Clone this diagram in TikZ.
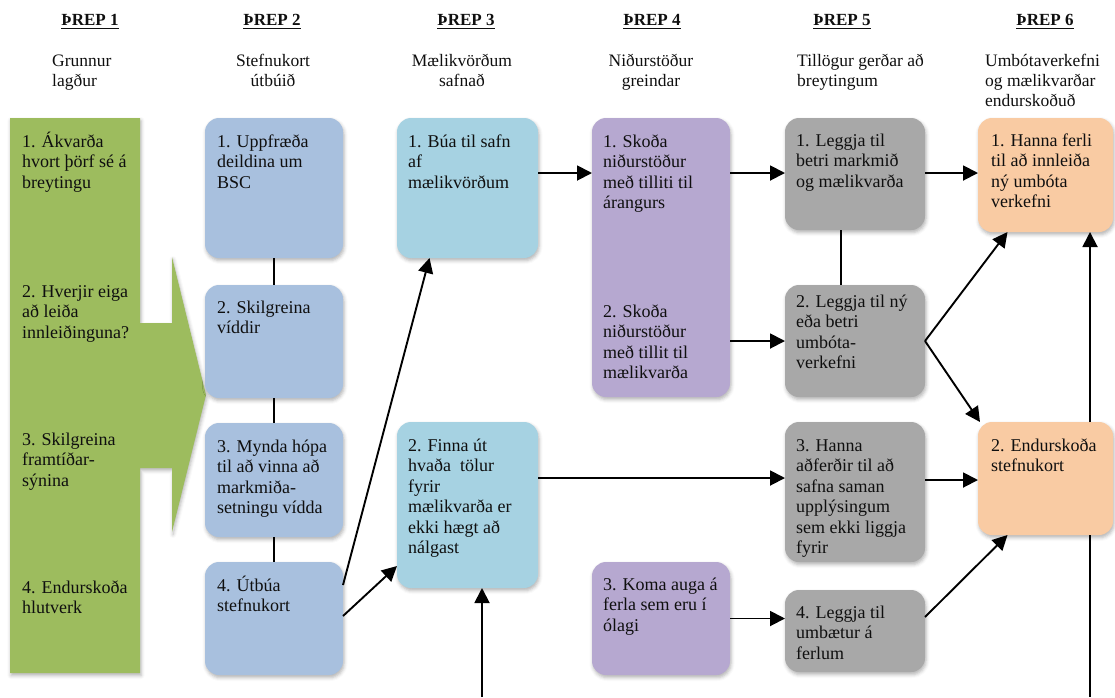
\documentclass[tikz,border=0pt]{standalone}
\usepackage{fontspec}
\setmainfont{Liberation Serif}
\usetikzlibrary{arrows.meta,shadows.blur}

\definecolor{stepgreen}{RGB}{157,188,94}
\definecolor{stepblue}{RGB}{168,192,222}
\definecolor{stepcyan}{RGB}{166,210,226}
\definecolor{steppurple}{RGB}{182,168,208}
\definecolor{stepgray}{RGB}{168,168,168}
\definecolor{steppeach}{RGB}{249,203,163}
\definecolor{ink}{RGB}{15,15,15}

% text of a card: first baseline at the node's base anchor
\newcommand{\cardlines}[1]{\parbox[t]{150pt}{\raggedright #1}}
\newcommand{\midlines}[1]{\parbox[t]{150pt}{\centering #1}}

\tikzset{
  softshadow/.style={blur shadow={shadow xshift=1pt, shadow yshift=-2.5pt,
      shadow blur radius=3.5pt, shadow opacity=30}},
  card/.style={rounded corners=14pt, inner sep=0pt, outer sep=0pt, softshadow},
  cardtxt/.style={anchor=base west, inner sep=0pt, text=ink,
      font=\fontsize{18}{20.5}\selectfont},
  headtxt/.style={anchor=base, inner sep=0pt, text=ink,
      font=\fontsize{17}{20}\selectfont\bfseries},
  subtxt/.style={inner sep=0pt, text=ink, font=\fontsize{17.5}{20}\selectfont},
  ln/.style={line width=1.9pt, draw=black},
  arr/.style={ln, -{Triangle[length=15pt,width=15pt]}},
  uline/.style={line width=1.2pt, draw=ink}
}

\begin{document}
\begin{tikzpicture}[x=1pt,y=-1pt]
\useasboundingbox (0,0) rectangle (1115,697);

% ---------- column headings ----------
\node[headtxt] (h1) at (90,25)   {ÞREP 1};
\node[headtxt] (h2) at (272,25)  {ÞREP 2};
\node[headtxt] (h3) at (466,25)  {ÞREP 3};
\node[headtxt] (h4) at (652,25)  {ÞREP 4};
\node[headtxt] (h5) at (842,25)  {ÞREP 5};
\node[headtxt] (h6) at (1045,25) {ÞREP 6};
\foreach \h in {h1,h2,h3,h4,h5,h6}
  \draw[uline] ([yshift=-3.5pt]\h.base west) -- ([yshift=-3.5pt]\h.base east);

\node[subtxt, anchor=base west] (s1) at (52,66)  {\cardlines{Grunnur\\lagður}};
\node[subtxt, anchor=base]      (s2) at (273,66) {\midlines{Stefnukort\\útbúið}};
\node[subtxt, anchor=base]      (s3) at (462,66) {\midlines{Mælikvörðum\\safnað}};
\node[subtxt, anchor=base]      (s4) at (651,66) {\midlines{Niðurstöður\\greindar}};
\node[subtxt, anchor=base west] (s5) at (797,66) {\cardlines{Tillögur gerðar að\\breytingum}};
\node[subtxt, anchor=base west] (s6) at (985,66) {\cardlines{Umbótaverkefni\\og mælikvarðar\\endurskoðuð}};

% ---------- step 1: green block arrow ----------
\fill[stepgreen, softshadow]
  (10,118) -- (140,118) -- (140,323) -- (172,323) -- (172,257) -- (206,395)
  -- (172,532) -- (172,468) -- (140,468) -- (140,673) -- (10,673) -- cycle;
\node[cardtxt] (g1) at (22,147) {\cardlines{1. Ákvarða\\hvort þörf sé á\\breytingu}};
\node[cardtxt] (g2) at (22,297) {\cardlines{2. Hverjir eiga\\að leiða\\innleiðinguna?}};
\node[cardtxt] (g3) at (22,445) {\cardlines{3. Skilgreina\\framtíðar-\\sýnina}};
\node[cardtxt] (g4) at (22,593) {\cardlines{4. Endurskoða\\hlutverk}};

% ---------- step 2 ----------
\node[card, fill=stepblue, minimum width=138pt, minimum height=140pt] (c2a) at (274,188) {};
\node[card, fill=stepblue, minimum width=138pt, minimum height=113pt] (c2b) at (274,341.5) {};
\node[card, fill=stepblue, minimum width=138pt, minimum height=114pt] (c2c) at (274,480) {};
\node[card, fill=stepblue, minimum width=138pt, minimum height=113pt] (c2d) at (274,618.5) {};

% ---------- step 3 ----------
\node[card, fill=stepcyan, minimum width=141pt, minimum height=140pt] (c3a) at (467.5,188) {};
\node[card, fill=stepcyan, minimum width=141pt, minimum height=166pt] (c3b) at (467.5,505) {};

% ---------- step 4 ----------
\node[card, fill=steppurple, minimum width=138pt, minimum height=279pt] (c4a) at (661,257.5) {};
\node[card, fill=steppurple, minimum width=138pt, minimum height=113pt] (c4c) at (661,618.5) {};

% ---------- step 5 ----------
\node[card, fill=stepgray, minimum width=140pt, minimum height=112pt] (c5a) at (855,174) {};
\node[card, fill=stepgray, minimum width=140pt, minimum height=112pt] (c5b) at (855,341) {};
\node[card, fill=stepgray, minimum width=140pt, minimum height=140pt] (c5c) at (855,492) {};
\node[card, fill=stepgray, minimum width=140pt, minimum height=82pt]  (c5d) at (855,631) {};

% ---------- step 6 ----------
\node[card, fill=steppeach, minimum width=135pt, minimum height=114pt] (c6a) at (1045.5,175) {};
\node[card, fill=steppeach, minimum width=135pt, minimum height=113pt] (c6b) at (1045.5,478.5) {};

% ---------- card texts ----------
\node[cardtxt] (t2a) at (217,147) {\cardlines{1. Uppfræða\\deildina um\\BSC}};
\node[cardtxt] (t2b) at (217,313) {\cardlines{2. Skilgreina\\víddir}};
\node[cardtxt] (t2c) at (217,452) {\cardlines{3. Mynda hópa\\til að vinna að\\markmiða-\\setningu vídda}};
\node[cardtxt] (t2d) at (217,591) {\cardlines{4. Útbúa\\stefnukort}};

\node[cardtxt] (t3a) at (408,147) {\cardlines{1. Búa til safn\\af\\mælikvörðum}};
\node[cardtxt] (t3b) at (408,451) {\cardlines{2. Finna út\\hvaða~ tölur\\fyrir\\mælikvarða er\\ekki hægt að\\nálgast}};

\node[cardtxt] (t4a) at (603,147) {\cardlines{1. Skoða\\niðurstöður\\með tilliti til\\árangurs}};
\node[cardtxt] (t4b) at (603,317) {\cardlines{2. Skoða\\niðurstöður\\með tillit til\\mælikvarða}};
\node[cardtxt] (t4c) at (603,590) {\cardlines{3. Koma auga á\\ferla sem eru í\\ólagi}};

\node[cardtxt] (t5a) at (796,146) {\cardlines{1. Leggja til\\betri markmið\\og mælikvarða}};
\node[cardtxt] (t5b) at (796,307) {\cardlines{2. Leggja til ný\\eða betri\\umbóta-\\verkefni}};
\node[cardtxt] (t5c) at (796,451) {\cardlines{3. Hanna\\aðferðir til að\\safna saman\\upplýsingum\\sem ekki liggja\\fyrir}};
\node[cardtxt] (t5d) at (796,618) {\cardlines{4. Leggja til\\umbætur á\\ferlum}};

\node[cardtxt] (t6a) at (991,146) {\cardlines{1. Hanna ferli\\til að innleiða\\ný umbóta\\verkefni}};
\node[cardtxt] (t6b) at (991,451) {\cardlines{2. Endurskoða\\stefnukort}};

% ---------- connectors ----------
\coordinate (in3)  at (482,697);
\coordinate (out6) at (1090,697);

\draw[ln] (c2a) -- (c2b);
\draw[ln] (c2b) -- (c2c);
\draw[ln] (c2c) -- (c2d);
\draw[ln] ([xshift=-14pt]c5a.south) -- ([xshift=-14pt]c5b.north);

\draw[arr] ([yshift=-23pt]c2d.north east) -- ([xshift=-38pt]c3a.south);
\draw[arr] ([yshift=-54pt]c2d.north east) -- ([yshift=22pt]c3b.south west);
\draw[arr] (in3) -- (in3 |- c3b.south);

\draw[arr] ([yshift=-55pt]c3a.north east) -- ([yshift=-55pt]c4a.north west);
\draw[arr] ([yshift=-56pt]c3b.north east) -- ([yshift=-56pt]c5c.north west);

\draw[arr] ([yshift=-55pt]c4a.north east) -- ([yshift=-55pt]c5a.north west);
\draw[arr] (c4a.east |- c5b.west) -- (c5b.west);
\draw[arr] (c4c.east) -- (c4c.east -| c5d.west);

\draw[arr] ([yshift=-55pt]c5a.north east) -- ([yshift=-55pt]c6a.north west);
\draw[arr] (c5b.east) -- ([xshift=-38pt]c6a.south);
\draw[arr] (c5b.east) -- ([xshift=2pt]c6b.north west);
\draw[arr] ([yshift=-58pt]c5c.north east) -- ([yshift=-58pt]c6b.north west);
\draw[arr] ([yshift=-27pt]c5d.north east) -- ([xshift=-38pt]c6b.south);

\draw[arr] ([xshift=44.5pt]c6b.north) -- ([xshift=44.5pt]c6a.south);
\draw[ln] ([xshift=44.5pt]c6b.south) -- (out6);
\end{tikzpicture}
\end{document}
